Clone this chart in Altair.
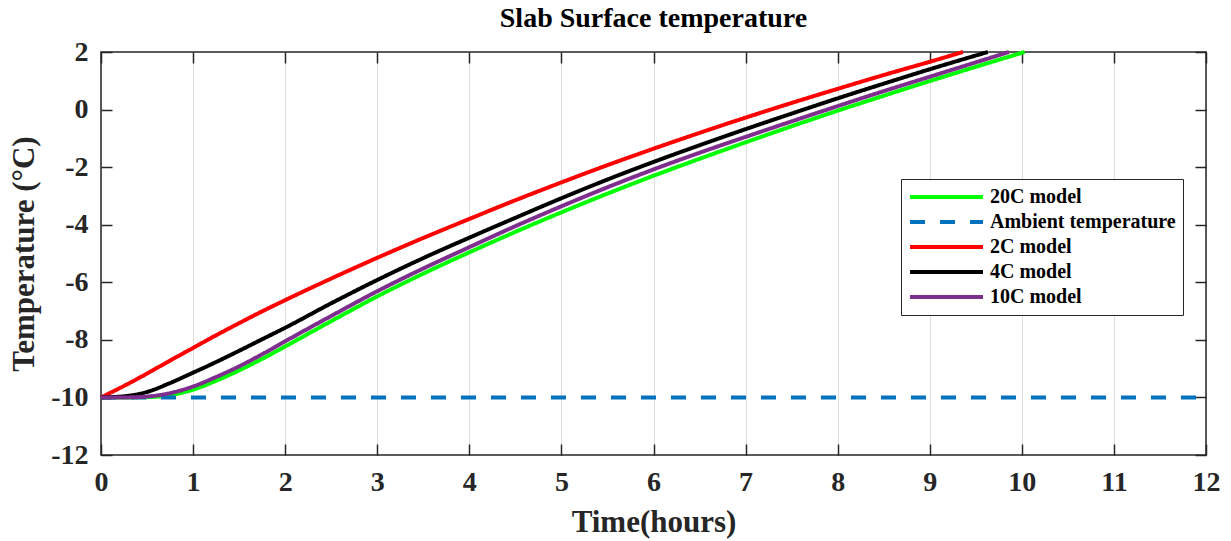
import altair as alt
import pandas as pd

# ---- data ----
series_names = ["20C model", "Ambient temperature", "2C model", "4C model", "10C model"]
series_colors = ["#00FF00", "#0072BD", "#FF0000", "#000000", "#7E2F8E"]

base_time = [0, 0.25, 0.5, 0.75, 1, 1.25, 1.5, 1.75, 2, 2.5, 3, 3.5, 4, 4.5, 5, 5.5,
             6, 6.5, 7, 7.5, 8, 8.5, 9]

time_20c = base_time + [10.03]
temp_20c = [-10, -10, -9.99, -9.92, -9.73, -9.42, -9.06, -8.66, -8.23, -7.35, -6.49,
            -5.70, -4.96, -4.25, -3.57, -2.92, -2.30, -1.71, -1.14, -0.58, -0.04,
            0.48, 0.99, 2.0]

time_10c = base_time + [9.86]
temp_10c = [-10, -10, -9.97, -9.85, -9.62, -9.29, -8.92, -8.50, -8.05, -7.17, -6.31,
            -5.52, -4.78, -4.05, -3.36, -2.70, -2.08, -1.50, -0.95, -0.41, 0.12,
            0.64, 1.14, 2.0]

time_4c = base_time + [9.63]
temp_4c = [-10, -9.96, -9.81, -9.50, -9.14, -8.77, -8.38, -7.98, -7.58, -6.73, -5.92,
           -5.16, -4.45, -3.76, -3.08, -2.43, -1.82, -1.24, -0.68, -0.14, 0.39,
           0.90, 1.40, 2.0]

time_2c = base_time + [9.36]
temp_2c = [-10, -9.60, -9.17, -8.72, -8.28, -7.84, -7.42, -7.01, -6.62, -5.87, -5.15,
           -4.46, -3.80, -3.15, -2.53, -1.93, -1.36, -0.81, -0.28, 0.23, 0.72,
           1.20, 1.66, 2.0]

time_ambient = [0, 12]
temp_ambient = [-10, -10]

x_ticks = list(range(0, 13))
y_ticks = list(range(-12, 3, 2))

# ---- build table ----
frames = []
for name, t, v in [("20C model", time_20c, temp_20c),
                   ("Ambient temperature", time_ambient, temp_ambient),
                   ("2C model", time_2c, temp_2c),
                   ("4C model", time_4c, temp_4c),
                   ("10C model", time_10c, temp_10c)]:
    frames.append(pd.DataFrame({"series": name, "time": t, "temp": v}))
df = pd.concat(frames, ignore_index=True)

FONT = "Liberation Serif"
TXT = "#262626"

x_scale = alt.Scale(domain=[0, 12], nice=False, zero=False)
y_scale = alt.Scale(domain=[-12, 2], nice=False, zero=False)
color_enc = alt.Color("series:N", title=None,
                      scale=alt.Scale(domain=series_names, range=series_colors))
dash_enc = alt.StrokeDash("series:N", title=None,
                          scale=alt.Scale(domain=series_names,
                                          range=[[1, 0], [15, 15], [1, 0], [1, 0], [1, 0]]))


def layer(name, x_axis, y_axis):
    return alt.Chart(df).transform_filter(
        alt.datum.series == name
    ).mark_line(strokeWidth=4, interpolate="monotone", strokeCap="butt").encode(
        x=alt.X("time:Q", scale=x_scale, axis=x_axis),
        y=alt.Y("temp:Q", scale=y_scale, axis=y_axis),
        color=color_enc,
        strokeDash=dash_enc,
        order=alt.Order("time:Q"),
    )


LBL = "'' + datum.value"

main_x = alt.Axis(orient="bottom", values=x_ticks, grid=True, ticks=False, domain=False,
                  title="Time(hours)", labelPadding=13, titlePadding=11, labelFlush=False,
                  labelExpr=LBL,
                  gridColor="#262626", gridOpacity=0.15, gridWidth=1)
main_y = alt.Axis(orient="left", values=y_ticks, grid=False, ticks=False, domain=False,
                  title="Temperature (°C)", labelPadding=13, titlePadding=10,
                  labelFlush=False, labelExpr=LBL)

top_x = alt.Axis(orient="top", values=x_ticks, grid=False, ticks=True, domain=False,
                 labels=False, title=None, offset=-11, tickSize=11)
right_y = alt.Axis(orient="right", values=y_ticks, grid=False, ticks=True, domain=False,
                   labels=False, title=None, offset=-11, tickSize=11)
bot_x = alt.Axis(orient="bottom", values=x_ticks, grid=False, ticks=True, domain=False,
                 labels=False, title=None, offset=-11, tickSize=11)
left_y = alt.Axis(orient="left", values=y_ticks, grid=False, ticks=True, domain=False,
                  labels=False, title=None, offset=-11, tickSize=11)

chart = alt.layer(
    layer("20C model", main_x, main_y),
    layer("Ambient temperature", top_x, right_y),
    layer("2C model", bot_x, left_y),
    layer("4C model", None, None),
    layer("10C model", None, None),
).resolve_axis(
    x="independent", y="independent"
).properties(
    width=1105,
    height=403,
    title=alt.TitleParams("Slab Surface temperature", font=FONT, fontSize=28,
                          fontWeight="bold", color="black", anchor="middle", offset=5),
    autosize=alt.AutoSizeParams(type="none"),
    padding={"left": 101, "top": 52, "right": 25, "bottom": 86},
).configure_view(
    stroke="#262626", strokeWidth=1.5
).configure_axis(
    labelFont=FONT, labelFontSize=28, labelFontWeight="bold", labelColor=TXT,
    titleFont=FONT, titleFontSize=31, titleFontWeight="bold", titleColor=TXT,
    tickColor="#262626", tickWidth=1.5,
).configure_legend(
    orient="none", legendX=800, legendY=127, direction="vertical",
    padding=7, strokeColor="#262626", fillColor="white", cornerRadius=0,
    labelFont=FONT, labelFontSize=20, labelFontWeight="bold", labelColor="black",
    labelOffset=5, labelLimit=400,
    symbolType="stroke", symbolSize=5329, symbolStrokeWidth=4, symbolOffset=0,
    clipHeight=22, rowPadding=3,
)

chart.save("out.html", embed_options={"renderer": "svg", "actions": False})
